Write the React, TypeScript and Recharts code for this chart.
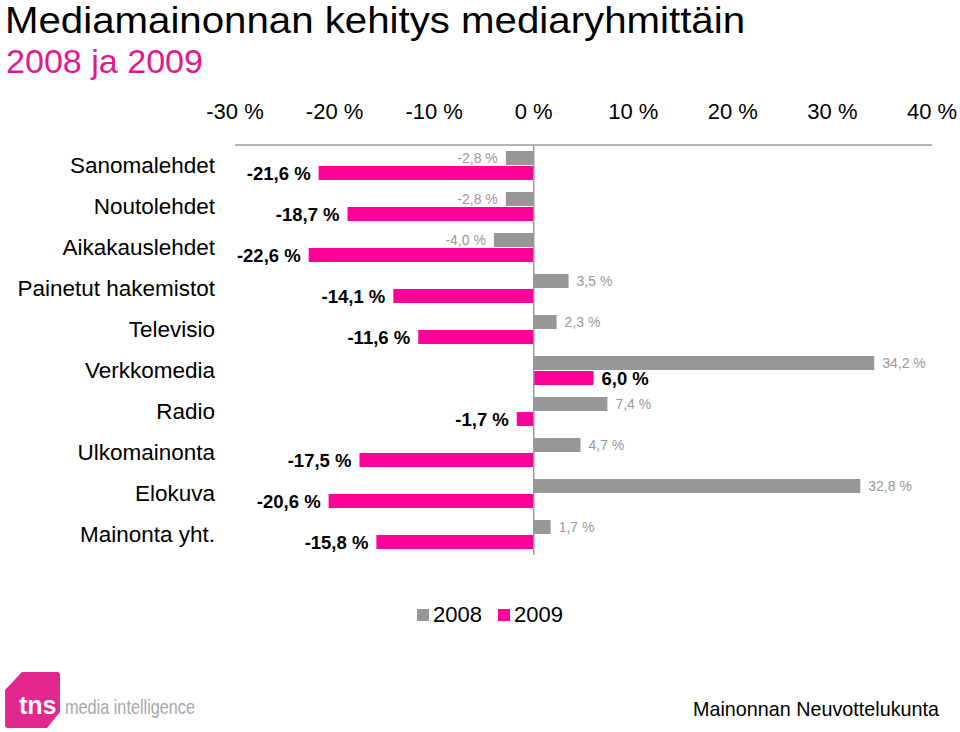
import { BarChart, Bar, XAxis, YAxis, Legend, LabelList, ReferenceLine } from 'recharts';

const categories = [
  'Sanomalehdet',
  'Noutolehdet',
  'Aikakauslehdet',
  'Painetut hakemistot',
  'Televisio',
  'Verkkomedia',
  'Radio',
  'Ulkomainonta',
  'Elokuva',
  'Mainonta yht.',
];

const values2008 = [-2.8, -2.8, -4.0, 3.5, 2.3, 34.2, 7.4, 4.7, 32.8, 1.7];
const values2009 = [-21.6, -18.7, -22.6, -14.1, -11.6, 6.0, -1.7, -17.5, -20.6, -15.8];

const xTicks = [-30, -20, -10, 0, 10, 20, 30, 40];

const GRAY = '#979797';
const MAGENTA = '#FF0099';
const FONT = '"Liberation Sans", Arial, Helvetica, sans-serif';

const chartData = categories.map((name, i) => ({
  name,
  y2008: values2008[i],
  y2009: values2009[i],
}));

const fmt = (v: number) => `${v.toFixed(1).replace('.', ',')} %`;

const makeLabel = (fill: string, size: number, weight: string) => (props: any) => {
  const x = Number(props.x);
  const w = Number(props.width);
  const y = Number(props.y);
  const h = Number(props.height);
  const v = Number(props.value);
  const left = Math.min(x, x + w);
  const right = Math.max(x, x + w);
  const neg = v < 0;
  return (
    <text
      x={neg ? left - 8 : right + 8}
      y={y + h / 2}
      textAnchor={neg ? 'end' : 'start'}
      dominantBaseline="central"
      fill={fill}
      fontSize={size}
      fontWeight={weight}
      fontFamily={FONT}
    >
      {fmt(v)}
    </text>
  );
};

const renderLegend = (props: any) => {
  const items = props.payload || [];
  return (
    <div style={{ display: 'flex', justifyContent: 'center', gap: 16 }}>
      {items.map((item: any) => (
        <div key={item.value} style={{ display: 'flex', alignItems: 'center' }}>
          <span style={{ display: 'inline-block', width: 12, height: 12, background: item.color, marginRight: 4 }} />
          <span style={{ color: '#000', fontSize: 22, fontFamily: FONT, lineHeight: '26px' }}>{item.value}</span>
        </div>
      ))}
    </div>
  );
};

const App = () => {
  return (
    <div style={{ position: 'absolute', left: 0, top: 0, width: 960, height: 732, fontFamily: FONT }}>
      <svg width={960} height={732} style={{ position: 'absolute', left: 0, top: 0, overflow: 'visible' }}>
        <text
          x={5}
          y={33}
          fontSize={36}
          fontFamily={FONT}
          fill="#000"
          textLength={740}
          lengthAdjust="spacingAndGlyphs"
        >
          Mediamainonnan kehitys mediaryhmittäin
        </text>
        <text
          x={6}
          y={73}
          fontSize={33}
          fontFamily={FONT}
          fill="#E3178F"
          textLength={197}
          lengthAdjust="spacingAndGlyphs"
        >
          2008 ja 2009
        </text>
        <path
          d="M22,672 L57,672 Q60,672 60,675 L60,712 L47,728 L8,728 Q5,728 5,725 L5,690 Z"
          fill="#E2278F"
        />
        <text x={19} y={714} fontSize={25} fontWeight="bold" fontFamily={FONT} fill="#fff">
          tns
        </text>
        <text
          x={65}
          y={714}
          fontSize={21}
          fontFamily={FONT}
          fill="#a8a8a8"
          textLength={130}
          lengthAdjust="spacingAndGlyphs"
        >
          media intelligence
        </text>
        <text
          x={693}
          y={716}
          fontSize={21}
          fontFamily={FONT}
          fill="#000"
          textLength={246}
          lengthAdjust="spacingAndGlyphs"
        >
          Mainonnan Neuvottelukunta
        </text>
      </svg>
      <div style={{ position: 'absolute', left: 0, top: 0 }}>
        <BarChart
          width={960}
          height={732}
          data={chartData}
          layout="vertical"
          margin={{ top: 105, right: 28, bottom: 177, left: 10 }}
          barSize={14}
          barGap={1}
          style={{ overflow: 'visible' }}
        >
          <XAxis
            type="number"
            orientation="top"
            domain={[-30, 40]}
            ticks={xTicks}
            tickFormatter={(v: number) => `${v} %`}
            height={40}
            tickLine={false}
            tickSize={0}
            tickMargin={26}
            axisLine={{ stroke: '#9a9a9a', strokeWidth: 1.5 }}
            tick={{ fill: '#000', fontSize: 22, fontFamily: FONT }}
          />
          <YAxis
            type="category"
            dataKey="name"
            width={225}
            tickLine={false}
            tickSize={0}
            tickMargin={20}
            axisLine={false}
            interval={0}
            tick={{ fill: '#000', fontSize: 22.5, fontFamily: FONT }}
          />
          <Legend
            layout="horizontal"
            verticalAlign="middle"
            align="center"
            content={renderLegend}
            wrapperStyle={{ top: 602, left: 380, width: 220 }}
          />
          <Bar dataKey="y2008" name="2008" fill={GRAY} isAnimationActive={false}>
            <LabelList dataKey="y2008" content={makeLabel('#999999', 14, 'normal')} />
          </Bar>
          <Bar dataKey="y2009" name="2009" fill={MAGENTA} isAnimationActive={false}>
            <LabelList dataKey="y2009" content={makeLabel('#000', 18.5, 'bold')} />
          </Bar>
          <ReferenceLine x={0} stroke="#9a9a9a" strokeWidth={1.5} />
        </BarChart>
      </div>
    </div>
  );
};

export default App;
